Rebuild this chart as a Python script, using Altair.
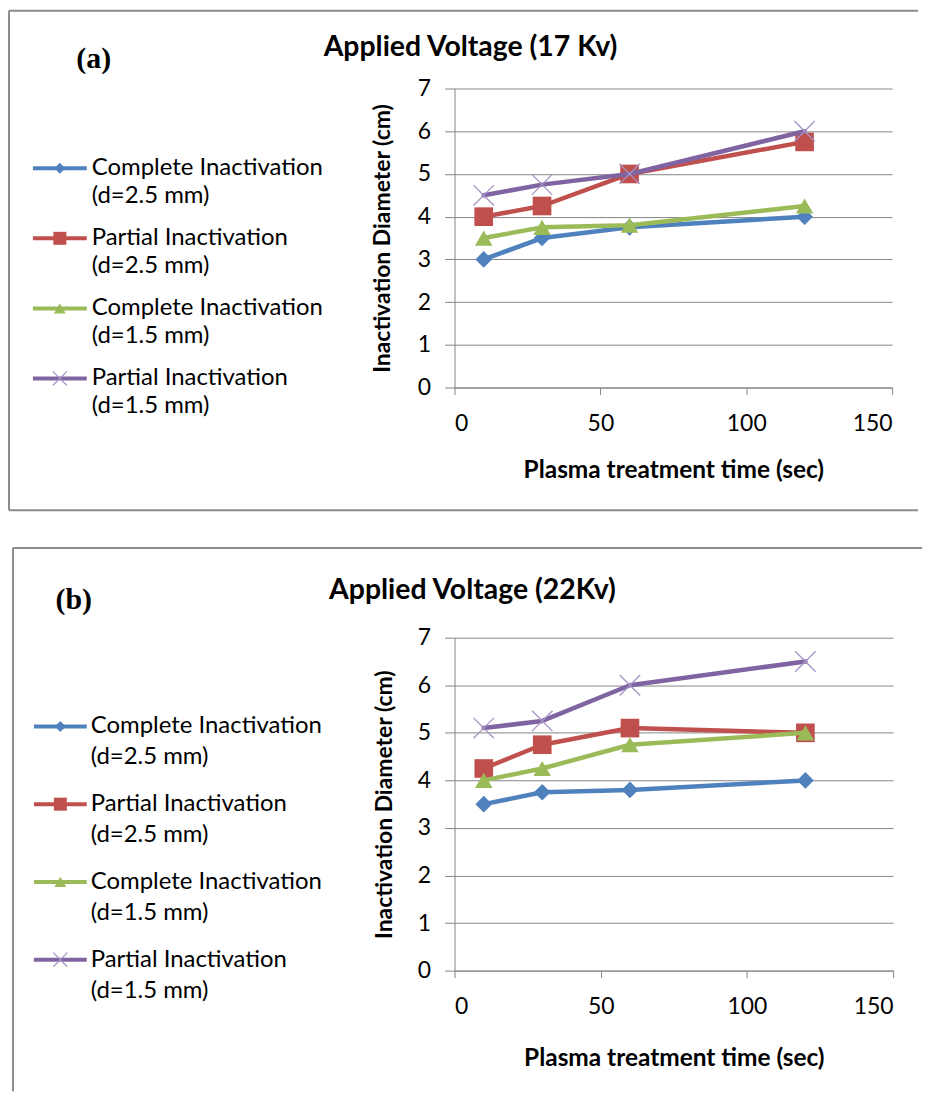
import altair as alt
import pandas as pd

# ---------------- data ----------------
times = [10, 30, 60, 120]
series_names = [
    "Complete Inactivation (d=2.5 mm)",
    "Partial Inactivation (d=2.5 mm)",
    "Complete Inactivation (d=1.5 mm)",
    "Partial Inactivation (d=1.5 mm)",
]
legend_line1 = ["Complete Inactivation", "Partial Inactivation",
                "Complete Inactivation", "Partial Inactivation"]
legend_line2 = ["(d=2.5 mm)", "(d=2.5 mm)", "(d=1.5 mm)", "(d=1.5 mm)"]

a_complete_25 = [3.0, 3.5, 3.75, 4.0]
a_partial_25 = [4.0, 4.25, 5.0, 5.75]
a_complete_15 = [3.5, 3.75, 3.8, 4.25]
a_partial_15 = [4.5, 4.75, 5.0, 6.0]

b_complete_25 = [3.5, 3.75, 3.8, 4.0]
b_partial_25 = [4.25, 4.75, 5.1, 5.0]
b_complete_15 = [4.0, 4.25, 4.75, 5.0]
b_partial_15 = [5.1, 5.25, 6.0, 6.5]

y_ticks = [0, 1, 2, 3, 4, 5, 6, 7]
x_ticks = [0, 50, 100, 150]

title_a = "Applied Voltage (17 Kv)"
title_b = "Applied Voltage (22Kv)"
tag_a = "(a)"
tag_b = "(b)"
x_title = "Plasma treatment time (sec)"
y_title = "Inactivation Diameter (cm)"

# ---------------- style ----------------
colors = ["#4F81BD", "#C0504D", "#9BBB59", "#8064A2"]
x_color = "#A393C6"
shapes = ["diamond", "square", "triangle-up", "M-1,-1L1,1M1,-1L-1,1"]
plot_sizes = [280, 350, 310, 420]
legend_sizes = [120, 170, 140, 200]
GRAY = "#878787"
FONT = "Lato"
BORDER = "#8C8C8C"
TICK_FS = 23
LEG_FS = 24


def make_panel(values, width, height, title, tag, lay):
    x_enc = alt.X("time:Q", scale=alt.Scale(domain=[0, 150], nice=False),
                  axis=alt.Axis(values=x_ticks, grid=False, domainColor=GRAY,
                                tickColor=GRAY, tickSize=7, labelFont=FONT,
                                labelFontSize=TICK_FS, labelColor="#000",
                                labelPadding=18,
                                title=x_title, titleFont=FONT, titleFontSize=24.5,
                                titleFontWeight="bold", titleColor="#000",
                                titleY=lay["xtitle_y"], titleBaseline="middle"))
    y_enc = alt.Y("value:Q", scale=alt.Scale(domain=[0, 7], nice=False),
                  axis=alt.Axis(values=y_ticks, grid=True, gridColor=GRAY,
                                domainColor=GRAY, tickColor=GRAY, tickSize=10,
                                labelFont=FONT, labelFontSize=TICK_FS,
                                labelColor="#000", labelPadding=14,
                                title=y_title, titleFont=FONT,
                                titleFontSize=23, titleFontWeight="bold",
                                titleColor="#000", titleX=lay["ytitle_x"],
                                titleY=height / 2, titleAlign="center",
                                titleBaseline="middle", titleAngle=270))
    layers = []
    for i, vals in enumerate(values):
        df = pd.DataFrame({"time": times, "value": vals, "series": series_names[i]})
        base = alt.Chart(df)
        layers.append(base.mark_line(strokeWidth=4.5, strokeJoin="round",
                                     strokeCap="round", color=colors[i])
                      .encode(x=x_enc, y=y_enc))
        if i < 3:
            layers.append(base.mark_point(shape=shapes[i], filled=True, opacity=1,
                                          size=plot_sizes[i], color=colors[i])
                          .encode(x=x_enc, y=y_enc))
        else:
            layers.append(base.mark_point(shape=shapes[i], filled=False, opacity=1,
                                          size=plot_sizes[i], color=x_color,
                                          strokeWidth=1.3)
                          .encode(x=x_enc, y=y_enc))

    # legend (manual, Excel style: line with marker, two-line label)
    for i in range(4):
        ldf = pd.DataFrame({"l1": [legend_line1[i]], "l2": [legend_line2[i]]})
        lb = alt.Chart(ldf)
        ly = lay["leg_y0"] + i * lay["leg_dy"]
        layers.append(lb.mark_rule(strokeWidth=4, color=colors[i]).encode(
            x=alt.value(lay["leg_x0"]), x2=alt.value(lay["leg_x1"]), y=alt.value(ly)))
        mx = (lay["leg_x0"] + lay["leg_x1"]) / 2
        if i < 3:
            layers.append(lb.mark_point(shape=shapes[i], filled=True, opacity=1,
                                        size=legend_sizes[i], color=colors[i]).encode(
                x=alt.value(mx), y=alt.value(ly)))
        else:
            layers.append(lb.mark_point(shape=shapes[i], filled=False, opacity=1,
                                        size=legend_sizes[i], color=x_color,
                                        strokeWidth=1.2).encode(
                x=alt.value(mx), y=alt.value(ly)))
        layers.append(lb.mark_text(align="left", baseline="middle", font=FONT,
                                   fontSize=LEG_FS, color="#000").encode(
            text="l1:N", x=alt.value(lay["leg_tx"]), y=alt.value(ly)))
        layers.append(lb.mark_text(align="left", baseline="middle", font=FONT,
                                   fontSize=LEG_FS, color="#000").encode(
            text="l2:N", x=alt.value(lay["leg_tx"]), y=alt.value(ly + lay["leg_l2"])))

    tdf = pd.DataFrame({"title": [title], "tag": [tag]})
    tb = alt.Chart(tdf)
    layers.append(tb.mark_text(align="center", baseline="middle", font=FONT,
                               fontSize=28.5, fontWeight="bold", color="#000").encode(
        text="title:N", x=alt.value(lay["title_x"]), y=alt.value(lay["title_y"])))
    layers.append(tb.mark_text(align="center", baseline="middle",
                               font="Liberation Serif", fontSize=30,
                               fontWeight="bold", color="#000").encode(
        text="tag:N", x=alt.value(lay["tag_x"]), y=alt.value(lay["tag_y"])))

    # panel frame
    layers.append(tb.mark_rule(strokeWidth=2, color=BORDER).encode(
        x=alt.value(lay["bx0"]), y=alt.value(lay["by0"]), y2=alt.value(lay["by1"])))
    layers.append(tb.mark_rule(strokeWidth=2, color=BORDER).encode(
        x=alt.value(lay["bx0"]), x2=alt.value(lay["bx1"]), y=alt.value(lay["by0"])))
    if lay.get("bottom"):
        layers.append(tb.mark_rule(strokeWidth=2, color=BORDER).encode(
            x=alt.value(lay["bx0"]), x2=alt.value(lay["bx1"]), y=alt.value(lay["by1"])))

    return alt.layer(*layers).properties(width=width, height=height)


lay_a = dict(xtitle_y=83, ytitle_x=-72, leg_x0=-423, leg_x1=-369, leg_tx=-364,
             leg_y0=80, leg_dy=70.3, leg_l2=28, title_x=16, title_y=-42,
             tag_x=-362, tag_y=-30, bx0=-447, bx1=465, by0=-78, by1=423, bottom=True)
lay_b = dict(xtitle_y=88, ytitle_x=-70, leg_x0=-422, leg_x1=-369, leg_tx=-365,
             leg_y0=89, leg_dy=78, leg_l2=31, title_x=18, title_y=-48,
             tag_x=-382, tag_y=-38, bx0=-443, bx1=469, by0=-90, by1=455, bottom=False)

panel_a = make_panel([a_complete_25, a_partial_25, a_complete_15, a_partial_15],
                     439, 300, title_a, tag_a, lay_a)
panel_b = make_panel([b_complete_25, b_partial_25, b_complete_15, b_partial_15],
                     440, 334, title_b, tag_b, lay_b)

chart = alt.vconcat(panel_a, panel_b, spacing=36).properties(
    padding=0, background="white"
).configure_view(stroke=None)

chart.save("out.html", embed_options={"renderer": "svg", "actions": False})
